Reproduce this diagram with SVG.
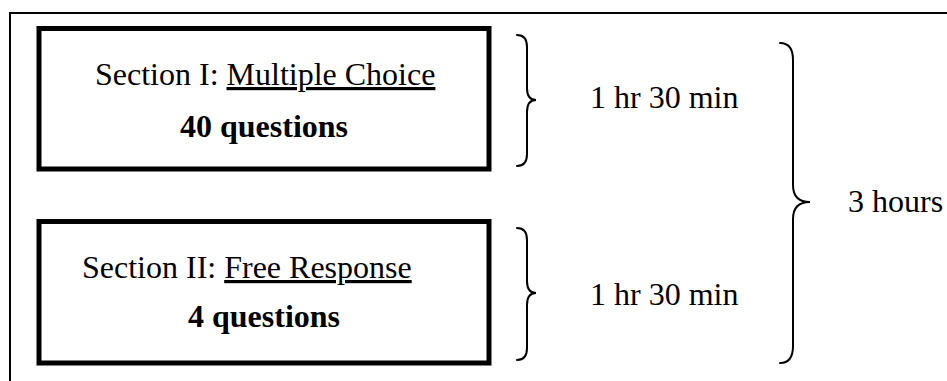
<svg xmlns="http://www.w3.org/2000/svg" width="947" height="381" viewBox="0 0 947 381">
<style>
.t{font-family:"Liberation Serif","Times New Roman",serif;font-size:32px;fill:#000}
.b{font-weight:bold}
.box{fill:none;stroke:#000;stroke-width:5}
.brace{fill:none;stroke:#000;stroke-width:2;stroke-linecap:round}
</style>
<rect width="947" height="381" fill="#fff"/>
<path d="M10,382 V13 H948" fill="none" stroke="#000" stroke-width="2"/>
<g id="section1">
<rect class="box" x="39" y="28.5" width="450" height="140.5"/>
<text class="t" x="95" y="85">Section I: <tspan text-decoration="underline">Multiple Choice</tspan></text>
<text class="t b" x="180" y="137">40 questions</text>
</g>
<g id="section2">
<rect class="box" x="39" y="221.5" width="450" height="141.5"/>
<text class="t" x="82" y="278">Section II: <tspan text-decoration="underline">Free Response</tspan></text>
<text class="t b" x="188" y="327">4 questions</text>
</g>
<g id="connectors">
<path class="brace" d="M517,35 Q527,35 527,47 V88 Q527,100 536,100 Q527,100 527,112 V154 Q527,166 517,166"/>
<path class="brace" d="M517,228 Q527,228 527,240 V281 Q527,293 536,293 Q527,293 527,305 V348 Q527,360 517,360"/>
<path class="brace" d="M780,43 Q793,43 793,60 V185 Q793,202 810,202 Q793,202 793,219 V346 Q793,363 780,363"/>
</g>
<g id="time1"><text class="t" x="590" y="108">1 hr 30 min</text></g>
<g id="time2"><text class="t" x="590" y="305">1 hr 30 min</text></g>
<g id="total"><text class="t" x="848" y="212">3 hours</text></g>
</svg>
